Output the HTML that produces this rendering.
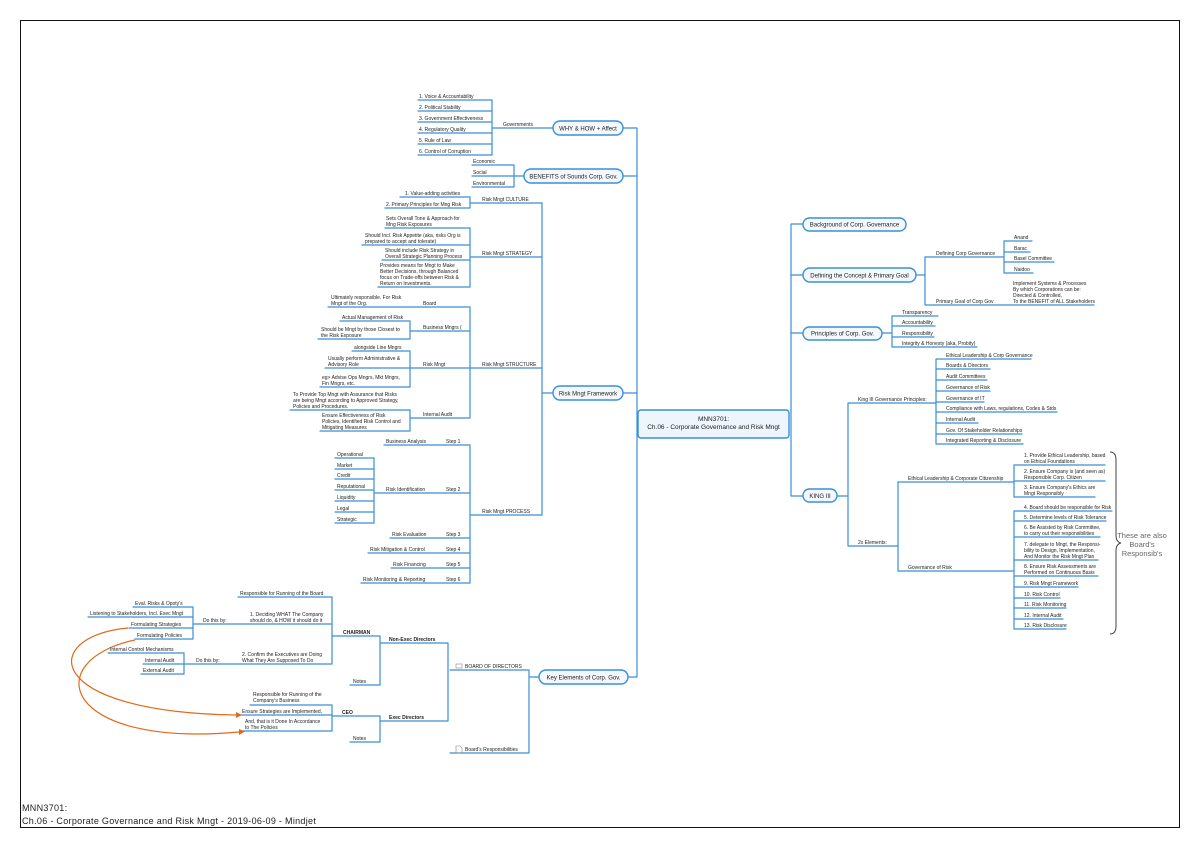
<!DOCTYPE html>
<html><head><meta charset="utf-8"><style>
html,body{margin:0;padding:0;background:#fff;}
svg{display:block;}
text{font-family:"Liberation Sans",sans-serif;fill:#222;}
.l{font-size:5px;}
.b{font-size:5px;font-weight:bold;}
.n{font-size:6px;text-anchor:middle;}
</style></head><body>
<svg width="1200" height="848" viewBox="0 0 1200 848" xmlns="http://www.w3.org/2000/svg">
<rect x="20.5" y="20.5" width="1159" height="807" fill="none" stroke="#111" stroke-width="1"/>
<g fill="none" stroke="#3a8fd6" stroke-width="1.2" stroke-linejoin="round" stroke-linecap="round">
<path d="M418 100H492 M418 111H492 M418 122H492 M418 133H492 M418 144H492 M418 155H492 M492 100V155 M492 128H553"/>
<path d="M472 165H514 M472 176H514 M472 187H514 M514 165V187 M514 176H524"/>
<path d="M623 128H637 M623 176H637 M623 393H637 M628 677H637 M637 128V677"/>
<path d="M400 197H470 M385 208H470 M470 197V208 M470 203H542"/>
<path d="M385 228H470 M362 245H470 M382 260H470 M378 287H470 M470 228V287 M470 257H542"/>
<path d="M328 307H470 M340 321H410 M318 339H410 M410 321V339 M410 331H470 M352 351H410 M325 368H410 M320 387H410 M410 351V387 M410 368H470 M290 410H410 M320 431H410 M410 410V431 M410 418H470 M470 307V418 M470 368H542"/>
<path d="M384 445H470 M335 458H374 M335 469H374 M335 479H374 M335 490H374 M335 501H374 M335 512H374 M335 523H374 M374 458V523 M374 493H470 M390 538H470 M368 553H470 M391 568H470 M361 583H470 M470 445V583 M470 515H542"/>
<path d="M542 203V515 M542 393H553"/>
<path d="M539 677H529 M450 670H529 M450 753H529 M529 670V753 M380 643H448 M380 721H448 M448 643V721 M332 636H380 M350 685H380 M380 636V685 M238 597H332 M193 624H332 M185 664H332 M332 597V664"/>
<path d="M133 607H193 M88 617H193 M129 628H193 M135 639H193 M193 607V639 M108 653H184 M143 664H184 M141 674H184 M184 653V674"/>
<path d="M332 716H380 M350 742H380 M380 716V742 M250 705H332 M238 715H332 M240 731H332 M332 705V731"/>
<path d="M791 224V496 M791 224H803 M791 275H803 M791 333H803 M791 496H803"/>
<path d="M916 275H925 M925 257V305 M925 257H1004 M925 305H1094 M1004 241V273 M1004 241H1032 M1004 252H1030 M1004 262H1054 M1004 273H1033"/>
<path d="M882 333H892 M892 316V347 M892 316H938 M892 326H935 M892 337H934 M892 347H977"/>
<path d="M837 496H848 M848 403V546 M848 403H936 M848 546H898 M936 359V444 M936 359H1031 M936 369H990 M936 380H987 M936 391H990 M936 402H984 M936 412H1057 M936 423H978 M936 434H1022 M936 444H1023"/>
<path d="M898 482V571 M898 482H1014 M898 571H1014 M1014 465V497 M1014 465H1105 M1014 481H1105 M1014 497H1095 M1014 511V629 M1014 511H1112 M1014 521H1106 M1014 537H1100 M1014 560H1098 M1014 576H1098 M1014 587H1078 M1014 598H1060 M1014 608H1066 M1014 619H1063 M1014 629H1066"/>
</g>
<g fill="none" stroke="#e06a1b" stroke-width="1.2">
<path d="M128 628 C40 636, 40 712, 236 715"/>
<path d="M135 640 C40 660, 60 748, 239 732"/>
</g>
<path d="M236 712 L242 715 L236 718Z M239 729 L245 731.5 L239 735Z" fill="#e06a1b"/>
<path d="M1110 452 Q1116 452 1116 460 V535 Q1116 542 1121 543 Q1116 544 1116 551 V626 Q1116 634 1110 634" fill="none" stroke="#444" stroke-width="1"/>
<text x="1142" y="538" style="font-size:7.5px;fill:#666;text-anchor:middle">These are also</text>
<text x="1142" y="547" style="font-size:7.5px;fill:#666;text-anchor:middle">Board's</text>
<text x="1142" y="556" style="font-size:7.5px;fill:#666;text-anchor:middle">Responsib's</text>
<g fill="#f3f8fd" stroke="#3a8fd6" stroke-width="1.4">
<rect x="553" y="121" width="70" height="14" rx="7"/>
<rect x="524" y="169" width="99" height="14" rx="7"/>
<rect x="553" y="386" width="70" height="14" rx="7"/>
<rect x="539" y="670" width="89" height="14" rx="7"/>
<rect x="638" y="410" width="151" height="28" rx="3" fill="#eef5fc"/>
<rect x="803" y="218" width="103" height="13" rx="6.5"/>
<rect x="803" y="268" width="113" height="14" rx="7"/>
<rect x="803" y="327" width="79" height="13" rx="6.5"/>
<rect x="803" y="489" width="34" height="13" rx="6.5"/>
</g>
<text class="n" x="588" y="130.5">WHY &amp; HOW + Affect</text>
<text class="n" x="573.5" y="178.5">BENEFITS of Sounds Corp. Gov.</text>
<text class="n" x="588" y="395.5">Risk Mngt Framework</text>
<text class="n" x="583.5" y="679.5">Key Elements of Corp. Gov.</text>
<text class="n" x="713.5" y="421" style="font-size:6.5px">MNN3701:</text>
<text class="n" x="713.5" y="429" style="font-size:6.5px">Ch.06 - Corporate Governance and Risk Mngt</text>
<text class="n" x="854.5" y="226.5">Background of Corp. Governance</text>
<text class="n" x="859.5" y="277.5">Defining the Concept &amp; Primary Goal</text>
<text class="n" x="842.5" y="335.5">Principles of Corp. Gov.</text>
<text class="n" x="820" y="498">KING III</text>
<g class="l">
<text class="l" x="419" y="98">1. Voice &amp; Accountability</text>
<text class="l" x="419" y="109">2. Political Stability</text>
<text class="l" x="419" y="120">3. Government Effectiveness</text>
<text class="l" x="419" y="131">4. Regulatory Quality</text>
<text class="l" x="419" y="142">5. Rule of Law</text>
<text class="l" x="419" y="153">6. Control of Corruption</text>
<text class="l" x="503" y="126">Governments</text>
<text class="l" x="473" y="163">Economic</text>
<text class="l" x="473" y="174">Social</text>
<text class="l" x="473" y="185">Environmental</text>
<text class="l" x="405" y="195">1. Value-adding activities</text>
<text class="l" x="386" y="206">2. Primary Principles for Mng Risk</text>
<text class="l" x="482" y="201">Risk Mngt CULTURE</text>
<text class="l" x="386" y="220">Sets Overall Tone &amp; Approach for</text>
<text class="l" x="386" y="226">Mng Risk Exposures</text>
<text class="l" x="365" y="237">Should Incl. Risk Appetite (aka, risks Org is</text>
<text class="l" x="365" y="243">prepared to accept and tolerate)</text>
<text class="l" x="385" y="252">Should include Risk Strategy in</text>
<text class="l" x="385" y="258">Overall Strategic Planning Process</text>
<text class="l" x="380" y="267">Provides means for Mngt to Make</text>
<text class="l" x="380" y="273">Better Decisions, through Balanced</text>
<text class="l" x="380" y="279">focus on Trade-offs between Risk &amp;</text>
<text class="l" x="380" y="285">Return on Investments.</text>
<text class="l" x="482" y="255">Risk Mngt STRATEGY</text>
<text class="l" x="331" y="299">Ultimately responsible. For Risk</text>
<text class="l" x="331" y="305">Mngt of the Org.</text>
<text class="l" x="423" y="305">Board</text>
<text class="l" x="342" y="319">Actual Management of Risk</text>
<text class="l" x="321" y="331">Should be Mngt by those Closest to</text>
<text class="l" x="321" y="337">the Risk Exposure</text>
<text class="l" x="423" y="329">Business Mngrs (</text>
<text class="l" x="354" y="349">alongside Line Mngrs</text>
<text class="l" x="328" y="360">Usually perform Administrative &amp;</text>
<text class="l" x="328" y="366">Advisory Role</text>
<text class="l" x="322" y="379">eg&gt; Advise Ops Mngrs, Mkt Mngrs,</text>
<text class="l" x="322" y="385">Fin Mngrs, etc.</text>
<text class="l" x="423" y="366">Risk Mngt</text>
<text class="l" x="482" y="366">Risk Mngt STRUCTURE</text>
<text class="l" x="293" y="396">To Provide Top Mngt with Assurance that Risks</text>
<text class="l" x="293" y="402">are being Mngt according to Approved Strategy,</text>
<text class="l" x="293" y="408">Policies and Procedures.</text>
<text class="l" x="322" y="417">Ensure Effectiveness of Risk</text>
<text class="l" x="322" y="423">Policies, Identified Risk Control and</text>
<text class="l" x="322" y="429">Mitigating Measures</text>
<text class="l" x="423" y="416">Internal Audit</text>
<text class="l" x="386" y="443">Business Analysis</text>
<text class="l" x="446" y="443">Step 1</text>
<text class="l" x="337" y="456">Operational</text>
<text class="l" x="337" y="467">Market</text>
<text class="l" x="337" y="477">Credit</text>
<text class="l" x="337" y="488">Reputational</text>
<text class="l" x="337" y="499">Liquidity</text>
<text class="l" x="337" y="510">Legal</text>
<text class="l" x="337" y="521">Strategic</text>
<text class="l" x="386" y="491">Risk Identification</text>
<text class="l" x="446" y="491">Step 2</text>
<text class="l" x="392" y="536">Risk Evaluation</text>
<text class="l" x="446" y="536">Step 3</text>
<text class="l" x="370" y="551">Risk Mitigation &amp; Control</text>
<text class="l" x="446" y="551">Step 4</text>
<text class="l" x="393" y="566">Risk Financing</text>
<text class="l" x="446" y="566">Step 5</text>
<text class="l" x="363" y="581">Risk Monitoring &amp; Reporting</text>
<text class="l" x="446" y="581">Step 6</text>
<text class="l" x="482" y="513">Risk Mngt PROCESS</text>
<text class="l" x="240" y="595">Responsible for Running of the Board</text>
<text class="l" x="250" y="616">1. Deciding WHAT The Company</text>
<text class="l" x="250" y="622">should do, &amp; HOW it should do it</text>
<text class="l" x="203" y="622">Do this by:</text>
<text class="l" x="135" y="605">Eval. Risks &amp; Opoty's</text>
<text class="l" x="90" y="615">Listening to Stakeholders, Incl. Exec Mngt</text>
<text class="l" x="131" y="626">Formulating Strategies</text>
<text class="l" x="137" y="637">Formulating Policies</text>
<text class="l" x="242" y="656">2. Confirm the Executives are Doing</text>
<text class="l" x="242" y="662">What They Are Supposed To Do</text>
<text class="l" x="196" y="662">Do this by:</text>
<text class="l" x="110" y="651">Internal Control Mechanisms</text>
<text class="l" x="145" y="662">Internal Audit</text>
<text class="l" x="143" y="672">External Audit</text>
<text class="b" x="343" y="634">CHAIRMAN</text>
<text class="b" x="389" y="641">Non-Exec Directors</text>
<text class="l" x="353" y="683">Notes</text>
<rect x="456" y="664" width="6" height="4" fill="none" stroke="#888" stroke-width="0.6"/>
<text class="l" x="465" y="668">BOARD OF DIRECTORS</text>
<text class="l" x="253" y="696">Responsible for Running of the</text>
<text class="l" x="253" y="702">Company's Business</text>
<text class="l" x="242" y="713">Ensure Strategies are Implemented,</text>
<text class="l" x="245" y="723">And, that is it Done In Accordance</text>
<text class="l" x="245" y="729">to The Policies</text>
<text class="b" x="342" y="714">CEO</text>
<text class="b" x="389" y="719">Exec Directors</text>
<text class="l" x="353" y="740">Notes</text>
<path d="M456 746h4l2 2v5h-6z" fill="none" stroke="#888" stroke-width="0.6"/>
<text class="l" x="465" y="751">Board's Responsibilities</text>
<text class="l" x="936" y="255">Defining Corp Governance</text>
<text class="l" x="1014" y="239">Anand</text>
<text class="l" x="1014" y="250">Barac</text>
<text class="l" x="1014" y="260">Basel Committee</text>
<text class="l" x="1014" y="271">Naidoo</text>
<text class="l" x="936" y="303">Primary Goal of Corp Gov</text>
<text class="l" x="1013" y="285">Implement Systems &amp; Processes</text>
<text class="l" x="1013" y="291">By which Corporations can be:</text>
<text class="l" x="1013" y="297">Directed &amp; Controlled,</text>
<text class="l" x="1013" y="303">To the BENEFIT of ALL Stakeholders</text>
<text class="l" x="902" y="314">Transparency</text>
<text class="l" x="902" y="324">Accountability</text>
<text class="l" x="902" y="335">Responsibility</text>
<text class="l" x="902" y="345">Integrity &amp; Honesty (aka, Probity)</text>
<text class="l" x="858" y="401">King III Governance Principles:</text>
<text class="l" x="946" y="357">Ethical Leadership &amp; Corp Governance</text>
<text class="l" x="946" y="367">Boards &amp; Directors</text>
<text class="l" x="946" y="378">Audit Committees</text>
<text class="l" x="946" y="389">Governance of Risk</text>
<text class="l" x="946" y="400">Governance of IT</text>
<text class="l" x="946" y="410">Compliance with Laws, regulations, Codes &amp; Stds</text>
<text class="l" x="946" y="421">Internal Audit</text>
<text class="l" x="946" y="432">Gov. Of Stakeholder Relationships</text>
<text class="l" x="946" y="442">Integrated Reporting &amp; Disclosure</text>
<text class="l" x="858" y="544">2x Elements:</text>
<text class="l" x="908" y="480">Ethical Leadership &amp; Corporate Citizenship</text>
<text class="l" x="908" y="569">Governance of Risk</text>
<text class="l" x="1024" y="457">1. Provide Ethical Leadership, based</text>
<text class="l" x="1024" y="463">on Ethical Foundations</text>
<text class="l" x="1024" y="473">2. Ensure Company is (and seen as)</text>
<text class="l" x="1024" y="479">Responsible Corp. Citizen</text>
<text class="l" x="1024" y="489">3. Ensure Company's Ethics are</text>
<text class="l" x="1024" y="495">Mngt Responsibly</text>
<text class="l" x="1024" y="509">4. Board should be responsible for Risk</text>
<text class="l" x="1024" y="519">5. Determine levels of Risk Tolerance</text>
<text class="l" x="1024" y="529">6. Be Assisted by Risk Committee,</text>
<text class="l" x="1024" y="535">to carry out their responsibilities</text>
<text class="l" x="1024" y="546">7. delegate to Mngt, the Responsi-</text>
<text class="l" x="1024" y="552">bility to Design, Implementation,</text>
<text class="l" x="1024" y="558">And Monitor the Risk Mngt Plan</text>
<text class="l" x="1024" y="568">8. Ensure Risk Assessments are</text>
<text class="l" x="1024" y="574">Performed on Continuous Basis</text>
<text class="l" x="1024" y="585">9. Risk Mngt Framework</text>
<text class="l" x="1024" y="596">10. Risk Control</text>
<text class="l" x="1024" y="606">11. Risk Monitoring</text>
<text class="l" x="1024" y="617">12. Internal Audit</text>
<text class="l" x="1024" y="627">13. Risk Disclosure</text>
</g>
<text x="22" y="811" style="font-size:9px;letter-spacing:0.3px">MNN3701:</text>
<text x="22" y="824" style="font-size:9px;letter-spacing:0.3px">Ch.06 - Corporate Governance and Risk Mngt - 2019-06-09 - Mindjet</text>
</svg>
</body></html>
